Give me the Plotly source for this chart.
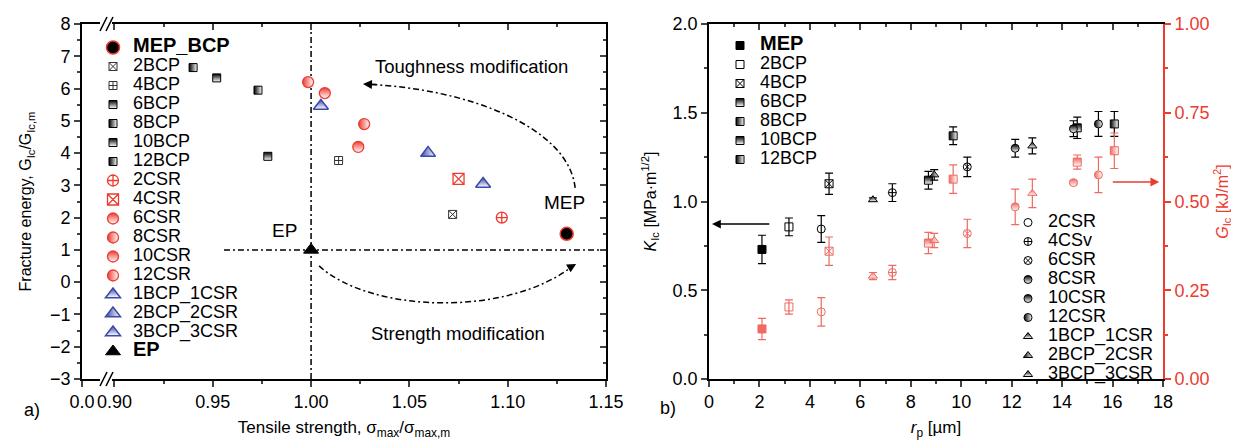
import plotly.graph_objects as go

# ---------------- panel a) data ----------------
bcp_names = ["2BCP", "4BCP", "6BCP", "8BCP", "10BCP", "12BCP"]
bcp_strength = [1.072, 1.014, 0.978, 0.973, 0.952, 0.940]
bcp_energy = [2.10, 3.77, 3.90, 5.95, 6.33, 6.65]

csr_names = ["2CSR", "4CSR", "6CSR", "8CSR", "10CSR", "12CSR"]
csr_strength = [1.097, 1.075, 1.024, 1.027, 1.007, 0.9985]
csr_energy = [2.00, 3.20, 4.19, 4.90, 5.86, 6.20]

hyb_names = ["1BCP_1CSR", "2BCP_2CSR", "3BCP_3CSR"]
hyb_strength = [1.0875, 1.0595, 1.005]
hyb_energy = [3.04, 4.00, 5.46]

mep_strength = [1.13]
mep_energy = [1.5]
ep_strength = [1.0]
ep_energy = [1.0]

# ---------------- panel b) data ----------------
rp_names = ["MEP", "2BCP", "4BCP", "6BCP", "8BCP", "10BCP", "12BCP",
            "2CSR", "4CSv", "6CSR", "8CSR", "10CSR", "12CSR",
            "1BCP_1CSR", "2BCP_2CSR", "3BCP_3CSR"]
rp_um = [2.1, 3.17, 4.76, 8.7, 9.68, 14.6, 16.07,
         4.45, 7.27, 10.24, 12.14, 14.45, 15.44,
         6.5, 8.93, 12.82]
kic = [0.73, 0.857, 1.10, 1.12, 1.37, 1.415, 1.437,
       0.845, 1.05, 1.195, 1.30, 1.41, 1.437,
       1.01, 1.15, 1.313]
kic_err = [0.08, 0.05, 0.06, 0.05, 0.05, 0.06, 0.07,
           0.075, 0.05, 0.055, 0.05, 0.045, 0.07,
           0.01, 0.03, 0.045]
gic = [0.141, 0.203, 0.36, 0.383, 0.563, 0.611, 0.643,
       0.189, 0.30, 0.41, 0.485, 0.553, 0.575,
       0.29, 0.39, 0.523]
gic_err = [0.03, 0.02, 0.04, 0.03, 0.04, 0.02, 0.05,
           0.04, 0.02, 0.04, 0.05, 0.005, 0.05,
           0.01, 0.02, 0.04]

# ---------------- styling ----------------
FONT = "Liberation Sans, Arial, sans-serif"
DARK = "#333333"
RED_A = "#ec3b30"
RED_B = "#ee6a62"
BLUE = "#3b4aa8"
OFF = 8                      # page body margin of the html page
W, H = 1239 - OFF, 440 - OFF


def px_x(p):
    return (p - OFF) / W


def px_y(p):
    return 1 - (p - OFF) / H


XA = [px_x(82), px_x(606)]
XB = [px_x(709), px_x(1163)]
YD = [px_y(379), px_y(24)]


def lbl(name, size=18, bold=False):
    s = f"<span style='font-size:{size}px'>{name}</span>"
    return f"<b>{s}</b>" if bold else s


def mk(symbol, color, size, grad=None, lw=1.0, fill=None):
    m = dict(symbol=symbol, color=fill or color, size=size,
             line=dict(color=color, width=lw))
    if grad:
        m["gradient"] = dict(type=grad, color="white")
    return m


bcp_sty = [("square-x-open", None), ("square-cross-open", None), ("square", "vertical"),
           ("square", "horizontal"), ("square", "vertical"), ("square", "horizontal")]
csr_sty = [("circle-cross-open", None), ("square-x-open", None), ("circle", "vertical"),
           ("circle", "horizontal"), ("circle", "vertical"), ("circle", "horizontal")]
hyb_sty = [("triangle-up", "vertical"), ("triangle-up", "horizontal"), ("triangle-up", "vertical")]

fig = go.Figure()

# ---- panel a traces ----
fig.add_trace(go.Scatter(x=mep_strength, y=mep_energy, mode="markers", name=lbl("MEP_BCP", 20, True),
                         marker=mk("circle", RED_A, 13, lw=1.5, fill="black"),
                         xaxis="x", yaxis="y", legend="legend"))
for n, xs, ys, (sym, g) in zip(bcp_names, bcp_strength, bcp_energy, bcp_sty):
    fig.add_trace(go.Scatter(x=[xs], y=[ys], mode="markers", name=lbl(n),
                             marker=mk(sym, DARK if g is None else "black", 8, g),
                             xaxis="x", yaxis="y", legend="legend"))
for n, xs, ys, (sym, g) in zip(csr_names, csr_strength, csr_energy, csr_sty):
    fig.add_trace(go.Scatter(x=[xs], y=[ys], mode="markers", name=lbl(n),
                             marker=mk(sym, RED_A, 11, g, lw=1.3),
                             xaxis="x", yaxis="y", legend="legend"))
for n, xs, ys, (sym, g) in zip(hyb_names, hyb_strength, hyb_energy, hyb_sty):
    fig.add_trace(go.Scatter(x=[xs], y=[ys], mode="markers", name=lbl(n),
                             marker=mk(sym, BLUE, 13, g, lw=1.5),
                             xaxis="x", yaxis="y", legend="legend"))
fig.add_trace(go.Scatter(x=ep_strength, y=ep_energy, mode="markers", name=lbl("EP", 20, True),
                         marker=mk("triangle-up", "black", 13),
                         xaxis="x", yaxis="y", legend="legend"))

# ---- panel b traces ----
rp_sty = [("square", None), ("square-open", None), ("square-x-open", None),
          ("square", "vertical"), ("square", "horizontal"), ("square", "vertical"), ("square", "horizontal"),
          ("circle-open", None), ("circle-cross-open", None), ("circle-x-open", None),
          ("circle", "vertical"), ("circle", "vertical"), ("circle", "horizontal"),
          ("triangle-up", "vertical"), ("triangle-up", "horizontal"), ("triangle-up", "vertical")]

for i, n in enumerate(rp_names):
    sym, g = rp_sty[i]
    leg = "legend2" if i < 7 else "legend3"
    name = lbl(n, 20, True) if n == "MEP" else lbl(n)
    fig.add_trace(go.Scatter(
        x=[rp_um[i]], y=[gic[i]], mode="markers", showlegend=False,
        marker=mk(sym, RED_B, 8, g),
        error_y=dict(type="data", array=[gic_err[i]], visible=True, color=RED_B, thickness=1.2, width=4),
        xaxis="x2", yaxis="y4"))
    fig.add_trace(go.Scatter(
        x=[rp_um[i]], y=[kic[i]], mode="markers", name=name, legend=leg,
        marker=mk(sym, "black", 8, g),
        error_y=dict(type="data", array=[kic_err[i]], visible=True, color="black", thickness=1.2, width=4),
        xaxis="x2", yaxis="y2"))

# empty traces so the mirrored (inward-tick) axes are drawn
fig.add_trace(go.Scatter(x=[None], y=[None], xaxis="x3", yaxis="y3", showlegend=False, hoverinfo="skip"))
fig.add_trace(go.Scatter(x=[None], y=[None], xaxis="x4", yaxis="y2", showlegend=False, hoverinfo="skip"))

tickfont = dict(family=FONT, size=18, color="black")
titlefont = dict(family=FONT, size=17, color="black")
axline = dict(showline=True, linecolor="black", linewidth=1.6, showgrid=False, zeroline=False)

xa_ticks = [0.8835, 0.90, 0.95, 1.00, 1.05, 1.10, 1.15]
xa_text = ["0.0", "0.90", "0.95", "1.00", "1.05", "1.10", "1.15"]
xa_minor = [0.925, 0.975, 1.025, 1.075, 1.125]


def legend_cfg(xp, yp, fs):
    return dict(x=px_x(xp), y=px_y(yp), bgcolor="rgba(0,0,0,0)",
                font=dict(family=FONT, size=fs, color="black"),
                tracegroupgap=0, xanchor="left", yanchor="top", itemwidth=30)


fig.update_layout(
    width=W, height=H, margin=dict(l=0, r=0, t=0, b=0, autoexpand=False),
    paper_bgcolor="white", plot_bgcolor="white",
    font=dict(family=FONT, color="black"),
    showlegend=True,
    legend=legend_cfg(93, 33, 11.9),
    legend2=legend_cfg(720, 31, 12.0),
    legend3=legend_cfg(1008, 208, 11.6),
    xaxis=dict(domain=XA, anchor="y", range=[0.8835, 1.15], tickmode="array", tickvals=xa_ticks,
               ticktext=xa_text, ticks="outside", ticklen=6, tickwidth=1.5, tickfont=tickfont,
               minor=dict(tickvals=xa_minor, ticks="outside", ticklen=3, tickwidth=1.5),
               mirror=True, title=dict(text="Tensile strength, σ<sub>max</sub>/σ<sub>max,m</sub>",
                                       font=titlefont, standoff=12), **axline),
    yaxis=dict(domain=YD, anchor="x", range=[-3, 8], dtick=1, tick0=0, ticks="outside", ticklen=6,
               tickwidth=1.5, tickfont=tickfont,
               minor=dict(dtick=0.5, ticks="outside", ticklen=3, tickwidth=1.5),
               mirror=True, title=dict(text="Fracture energy, G<sub>Ic</sub>/G<sub>Ic,m</sub>",
                                       font=dict(family=FONT, size=16, color="black"), standoff=14),
               **axline),
    xaxis3=dict(overlaying="x", anchor="y", side="top", range=[0.8835, 1.15], tickmode="array",
                tickvals=xa_ticks[1:], ticks="inside", ticklen=6, tickwidth=1.5, showticklabels=False,
                minor=dict(tickvals=xa_minor, ticks="inside", ticklen=3, tickwidth=1.5),
                showline=False, showgrid=False, zeroline=False),
    yaxis3=dict(overlaying="y", anchor="x", side="right", range=[-3, 8], dtick=1, tick0=0,
                ticks="inside", ticklen=6, tickwidth=1.5, showticklabels=False,
                minor=dict(dtick=0.5, ticks="inside", ticklen=3, tickwidth=1.5),
                showline=False, showgrid=False, zeroline=False),
    xaxis2=dict(domain=XB, anchor="y2", range=[0, 18], dtick=2, tick0=0, ticks="outside", ticklen=6,
                tickwidth=1.5, tickfont=tickfont,
                minor=dict(dtick=1, ticks="outside", ticklen=3, tickwidth=1.5),
                mirror=True, title=dict(text="<i>r</i><sub>p</sub> [µm]", font=titlefont, standoff=12),
                **axline),
    yaxis2=dict(domain=YD, anchor="x2", range=[0, 2], dtick=0.5, tick0=0, tickformat=".1f",
                ticks="outside", ticklen=6, tickwidth=1.5, tickfont=tickfont,
                minor=dict(dtick=0.25, ticks="outside", ticklen=3, tickwidth=1.5),
                title=dict(text="<i>K</i><sub>Ic</sub> [MPa·m<sup>1/2</sup>]",
                           font=dict(family=FONT, size=16, color="black"), standoff=12),
                **axline),
    xaxis4=dict(overlaying="x2", anchor="y2", side="top", range=[0, 18], dtick=2, tick0=0,
                ticks="inside", ticklen=6, tickwidth=1.5, showticklabels=False,
                minor=dict(dtick=1, ticks="inside", ticklen=3, tickwidth=1.5),
                showline=False, showgrid=False, zeroline=False),
    yaxis4=dict(overlaying="y2", anchor="x2", side="right", range=[0, 1], dtick=0.25, tick0=0,
                tickformat=".2f", ticks="outside", ticklen=6, tickwidth=1.5, tickcolor=RED_A,
                tickfont=dict(family=FONT, size=18, color=RED_A),
                minor=dict(dtick=0.125, ticks="outside", ticklen=3, tickwidth=1.5, tickcolor=RED_A),
                showline=True, linecolor=RED_A, linewidth=1.6, showgrid=False, zeroline=False,
                title=dict(text="<i>G</i><sub>Ic</sub> [kJ/m<sup>2</sup>]",
                           font=dict(family=FONT, size=16, color=RED_A), standoff=8)),
)

DD = "6px,3px,2px,3px"
shapes = [
    dict(type="line", xref="x", yref="y", x0=1.0, x1=1.0, y0=-3, y1=8,
         line=dict(color="black", width=1.5, dash=DD), layer="below"),
    dict(type="line", xref="x", yref="y", x0=0.9557, x1=1.15, y0=1, y1=1,
         line=dict(color="black", width=1.5, dash=DD), layer="below"),
    dict(type="path", xref="x", yref="y",
         path="M 1.1343,2.92 C 1.131,4.8 1.08,6.0 1.028,6.135",
         line=dict(color="black", width=1.5, dash=DD)),
    dict(type="path", xref="x", yref="y",
         path="M 1.0041,0.505 C 1.03,-0.95 1.10,-1.1 1.1335,0.52",
         line=dict(color="black", width=1.5, dash=DD)),
]
# axis-break marks on the left panel
for yp in (379, 24):
    shapes.append(dict(type="rect", xref="paper", yref="paper", x0=px_x(100), x1=px_x(112),
                       y0=px_y(yp + 3), y1=px_y(yp - 3), fillcolor="white", line=dict(width=0),
                       layer="above"))
    for xo in (100, 106):
        shapes.append(dict(type="line", xref="paper", yref="paper", x0=px_x(xo), x1=px_x(xo + 7),
                           y0=px_y(yp + 7), y1=px_y(yp - 7), line=dict(color="black", width=1.6),
                           layer="above"))
fig.update_layout(shapes=shapes)

ann = [
    dict(text="Toughness modification", x=1.0814, y=6.67, xref="x", yref="y", showarrow=False,
         font=dict(family=FONT, size=18.5)),
    dict(text="Strength modification", x=1.0748, y=-1.6, xref="x", yref="y", showarrow=False,
         font=dict(family=FONT, size=18.5)),
    dict(text="MEP", x=1.1287, y=2.46, xref="x", yref="y", showarrow=False,
         font=dict(family=FONT, size=19)),
    dict(text="EP", x=0.9863, y=1.6, xref="x", yref="y", showarrow=False,
         font=dict(family=FONT, size=19)),
    dict(text="a)", x=px_x(22), y=px_y(422), xref="paper", yref="paper", showarrow=False,
         font=dict(family=FONT, size=18)),
    dict(text="b)", x=px_x(668), y=px_y(420), xref="paper", yref="paper", showarrow=False,
         font=dict(family=FONT, size=18)),
    # arrowheads of the curved arrows
    dict(text="", x=1.0264, y=6.14, ax=1.034, ay=6.12, xref="x", yref="y", axref="x", ayref="y",
         showarrow=True, arrowhead=2, arrowsize=1.2, arrowwidth=1.5, arrowcolor="black"),
    dict(text="", x=1.1348, y=0.567, ax=1.1315, ay=0.45, xref="x", yref="y", axref="x", ayref="y",
         showarrow=True, arrowhead=2, arrowsize=1.2, arrowwidth=1.5, arrowcolor="black"),
    # axis-pointing arrows in panel b
    dict(text="", x=0.12, y=0.873, ax=2.45, ay=0.873, xref="x2", yref="y2", axref="x2", ayref="y2",
         showarrow=True, arrowhead=2, arrowsize=1.1, arrowwidth=1.6, arrowcolor="black"),
    dict(text="", x=17.85, y=0.555, ax=15.95, ay=0.555, xref="x2", yref="y4", axref="x2", ayref="y4",
         showarrow=True, arrowhead=2, arrowsize=1.1, arrowwidth=1.6, arrowcolor=RED_A),
]
fig.update_layout(annotations=ann)

fig.write_html("out.html")
